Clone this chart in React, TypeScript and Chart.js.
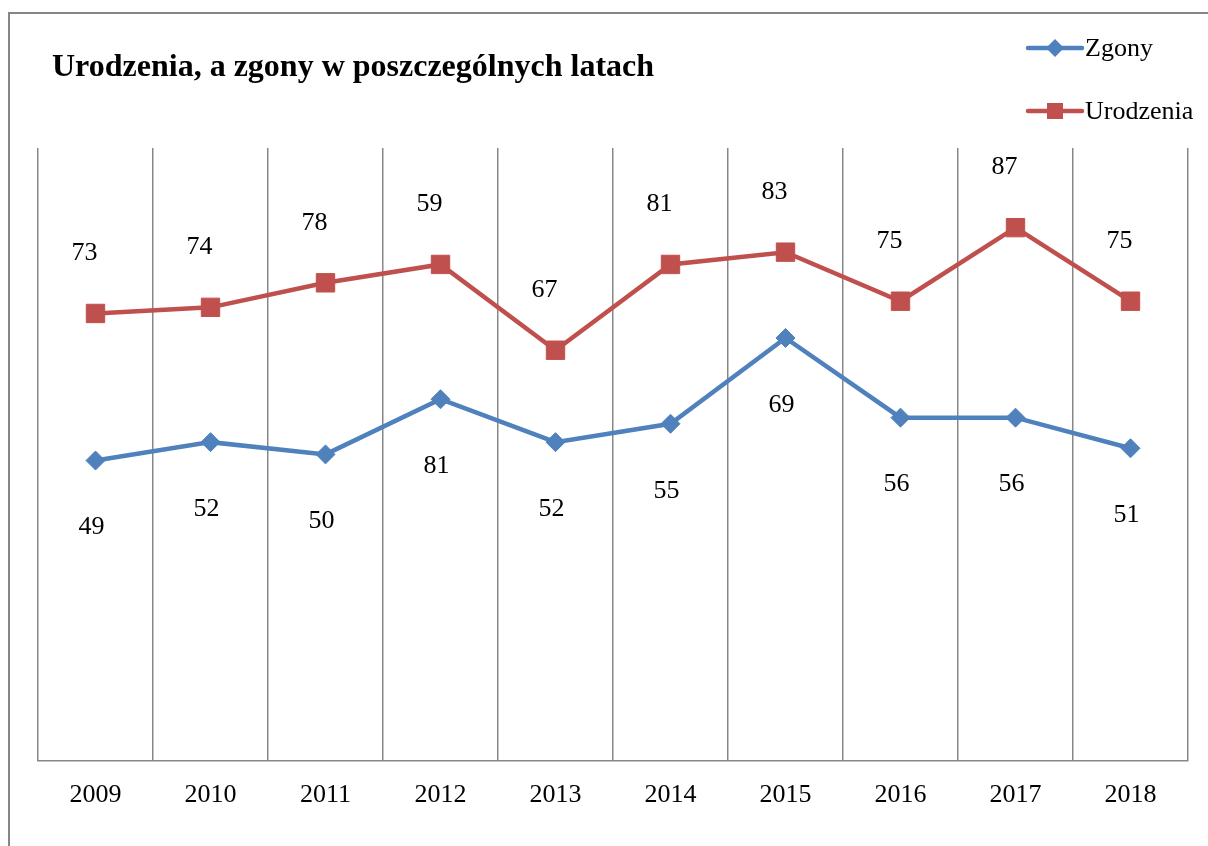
import React, { useEffect, useRef } from "react";
import { Chart, registerables } from "chart.js";

Chart.register(...registerables);

const years = ["2009", "2010", "2011", "2012", "2013", "2014", "2015", "2016", "2017", "2018"];
const deaths = [49, 52, 50, 59, 52, 55, 69, 56, 56, 51];
const births = [73, 74, 78, 81, 67, 81, 83, 75, 87, 75];
const deathsLabels = ["49", "52", "50", "81", "52", "55", "69", "56", "56", "51"];
const birthsLabels = ["73", "74", "78", "59", "67", "81", "83", "75", "87", "75"];
const titleText = "Urodzenia, a zgony w poszczególnych latach";
const seriesNames = ["Zgony", "Urodzenia"];

const BLUE = "#4F81BD";
const RED = "#C0504D";
const GRID = "#878787";
const SERIF = "'Liberation Serif', 'Times New Roman', serif";

const decorPlugin = {
  id: "decor",
  beforeDraw(chart: any) {
    const ctx = chart.ctx;
    ctx.save();
    ctx.fillStyle = "#ffffff";
    ctx.fillRect(0, 0, chart.width, chart.height);
    ctx.strokeStyle = "#868686";
    ctx.lineWidth = 2;
    ctx.beginPath();
    ctx.moveTo(9, chart.height);
    ctx.lineTo(9, 13);
    ctx.lineTo(chart.width, 13);
    ctx.stroke();
    ctx.restore();
  },
  afterDatasetsDraw(chart: any) {
    const ctx = chart.ctx;
    ctx.save();
    // title
    ctx.fillStyle = "#000";
    ctx.font = `bold 32px ${SERIF}`;
    ctx.textAlign = "left";
    ctx.textBaseline = "alphabetic";
    ctx.fillText(titleText, 52, 76);

    // legend
    const items = [
      { name: seriesNames[0], color: BLUE, style: "diamond", y: 48 },
      { name: seriesNames[1], color: RED, style: "square", y: 111 },
    ];
    items.forEach((it) => {
      ctx.strokeStyle = it.color;
      ctx.fillStyle = it.color;
      ctx.lineWidth = 4.5;
      ctx.lineCap = "round";
      ctx.beginPath();
      ctx.moveTo(1028, it.y);
      ctx.lineTo(1082, it.y);
      ctx.stroke();
      const cx = 1055;
      ctx.beginPath();
      if (it.style === "diamond") {
        ctx.moveTo(cx, it.y - 9);
        ctx.lineTo(cx + 9, it.y);
        ctx.lineTo(cx, it.y + 9);
        ctx.lineTo(cx - 9, it.y);
        ctx.closePath();
      } else {
        ctx.rect(cx - 8, it.y - 8, 16, 16);
      }
      ctx.fill();
      ctx.fillStyle = "#000";
      ctx.font = `26px ${SERIF}`;
      ctx.textBaseline = "middle";
      ctx.fillText(it.name, 1085, it.y + 1);
    });

    // data labels
    ctx.font = `26px ${SERIF}`;
    ctx.textAlign = "center";
    ctx.textBaseline = "middle";
    ctx.fillStyle = "#000";
    const dMeta = chart.getDatasetMeta(0);
    dMeta.data.forEach((el: any, i: number) => {
      ctx.fillText(deathsLabels[i], el.x - 4, el.y + 67);
    });
    const bMeta = chart.getDatasetMeta(1);
    bMeta.data.forEach((el: any, i: number) => {
      ctx.fillText(birthsLabels[i], el.x - 11, el.y - 60);
    });
    ctx.restore();
  },
};

export default function App() {
  const ref = useRef<HTMLCanvasElement>(null);
  useEffect(() => {
    if (!ref.current) return;
    const chart = new Chart(ref.current, {
      type: "line",
      data: {
        labels: years,
        datasets: [
          {
            label: seriesNames[0],
            data: deaths,
            borderColor: BLUE,
            backgroundColor: BLUE,
            borderWidth: 4.5,
            pointStyle: "rectRot",
            pointRadius: 9.5,
            pointBorderWidth: 1,
            pointBackgroundColor: BLUE,
            pointBorderColor: BLUE,
            tension: 0,
          },
          {
            label: seriesNames[1],
            data: births,
            borderColor: RED,
            backgroundColor: RED,
            borderWidth: 4.5,
            pointStyle: "rect",
            pointRadius: 13,
            pointBorderWidth: 1,
            pointBackgroundColor: RED,
            pointBorderColor: RED,
            tension: 0,
          },
        ],
      },
      options: {
        responsive: false,
        animation: false,
        devicePixelRatio: 1,
        layout: { padding: { left: 38, right: 20, top: 148, bottom: 16 } },
        plugins: {
          legend: { display: false },
          title: { display: false },
          tooltip: { enabled: false },
        },
        scales: {
          x: {
            type: "category",
            offset: true,
            grid: {
              offset: true,
              color: GRID,
              lineWidth: 1.5,
              drawTicks: false,
            },
            border: { display: true, color: GRID, width: 1.5 },
            ticks: {
              color: "#000",
              padding: 19,
              font: { family: SERIF, size: 26 },
              maxRotation: 0,
            },
          },
          y: {
            display: false,
            min: 0,
            max: 100,
          },
        },
      },
      plugins: [decorPlugin],
    });
    return () => chart.destroy();
  }, []);
  return (
    <div style={{ position: "fixed", left: 0, top: 0, width: 1208, height: 846 }}>
      <canvas ref={ref} width={1208} height={846} style={{ display: "block" }} />
    </div>
  );
}
